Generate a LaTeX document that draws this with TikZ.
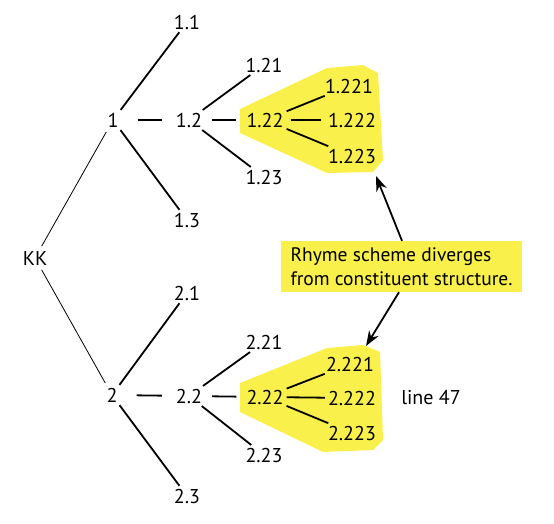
\documentclass[tikz,border=0pt]{standalone}
\usepackage{fontspec}
\setmainfont{PT Sans}
\usetikzlibrary{arrows.meta}
\definecolor{hiYellow}{RGB}{250,240,75}

\begin{document}
\begin{tikzpicture}[
    x=1pt, y=-1pt,
    numNode/.style={inner sep=2pt, font=\fontsize{20}{23}\selectfont},
    branch/.style={line width=1.8pt, shorten <=1pt, shorten >=1pt},
    rootEdge/.style={line width=0.8pt, shorten <=3pt, shorten >=3pt},
    hiShade/.style={fill=hiYellow, draw=none},
    noteArrow/.style={line width=1.8pt, -{Stealth[length=15pt, width=11pt]}}
]
    \useasboundingbox (0,0) rectangle (554,523);

    % Highlight areas
    \path[hiShade] (240,109) -- (327,68) -- (363,65) -- (378,73) -- (383,160)
        -- (373,172) -- (327,173) -- (240,133) -- cycle;
    \path[hiShade] (240,383) -- (327,348) -- (363,345) -- (380,352) -- (383,440)
        -- (373,450) -- (323,452) -- (240,412) -- cycle;

    % Root
    \node[numNode] (kk) at (35,258) {KK};

    % First branch
    \node[numNode] (n1) at (113,120) {1};
    \node[numNode] (n11) at (187,22) {1.1};
    \node[numNode] (n12) at (189,120) {1.2};
    \node[numNode] (n13) at (187,220) {1.3};
    \node[numNode] (n121) at (264,65) {1.21};
    \node[numNode] (n122) at (265,120) {1.22};
    \node[numNode] (n123) at (264,177) {1.23};
    \node[numNode] (n1221) at (349,86) {1.221};
    \node[numNode] (n1222) at (352,120) {1.222};
    \node[numNode] (n1223) at (352,156) {1.223};

    % Second branch
    \node[numNode] (n2) at (112,395) {2};
    \node[numNode] (n21) at (187,293) {2.1};
    \node[numNode] (n22) at (189,396) {2.2};
    \node[numNode] (n23) at (187,496) {2.3};
    \node[numNode] (n221) at (264,342) {2.21};
    \node[numNode] (n222) at (265,397) {2.22};
    \node[numNode] (n223) at (264,455) {2.23};
    \node[numNode] (n2221) at (350,364) {2.221};
    \node[numNode] (n2222) at (352,398) {2.222};
    \node[numNode] (n2223) at (352,433) {2.223};

    \node[numNode] (line47) at (431,398) {line 47};

    % Note
    \node[fill=hiYellow, minimum width=241pt, minimum height=51pt, inner sep=4pt,
        align=left, font=\fontsize{19.5}{24}\selectfont] (note) at (401.5,266.5)
        {Rhyme scheme diverges\\from constituent structure.};
    \coordinate (tipTop) at (376,176);
    \coordinate (tipBot) at (366,346);

    % Connectors
    \draw[rootEdge] (kk) -- (n1);
    \draw[rootEdge] (kk) -- (n2);
    \foreach \a/\b in {n1/n11, n1/n13, n12/n121, n12/n123, n122/n1221, n122/n1223,
                       n2/n21, n2/n23, n22/n221, n22/n223, n222/n2221, n222/n2223}
        \draw[branch] (\a) -- (\b);
    \draw[branch, shorten <=17pt, shorten >=12pt] (n1) -- (n12);
    \draw[branch, shorten <=17pt, shorten >=12pt] (n2) -- (n22);
    \draw[branch, shorten <=8pt, shorten >=8pt] (n12) -- (n122);
    \draw[branch, shorten <=8pt, shorten >=8pt] (n22) -- (n222);
    \draw[branch, shorten <=5pt, shorten >=5pt] (n122) -- (n1222);
    \draw[branch, shorten <=1pt, shorten >=1pt] (n222) -- (n2222);

    \draw[noteArrow] (note.north -| 402,0) -- (tipTop);
    \draw[noteArrow] (note.south -| 399,0) -- (tipBot);
\end{tikzpicture}
\end{document}
